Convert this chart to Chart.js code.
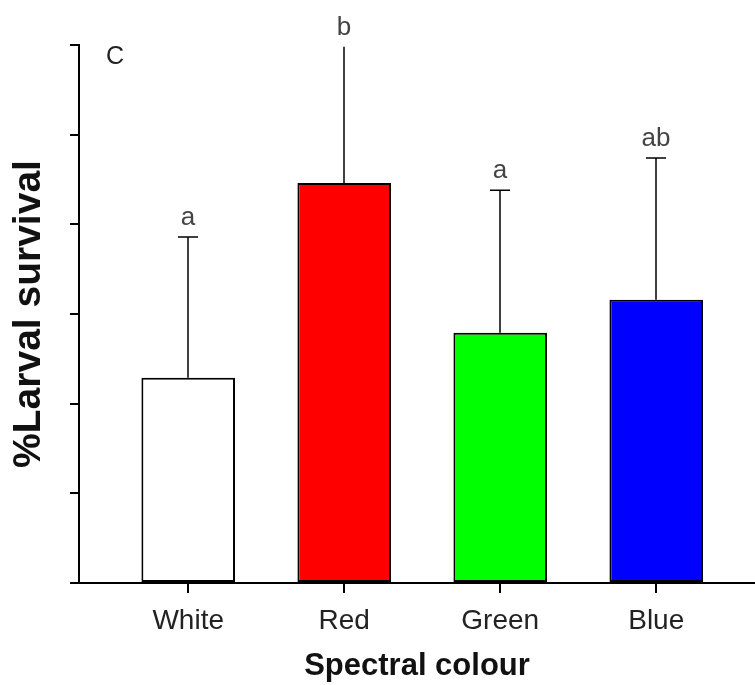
<!DOCTYPE html>
<html>
<head>
<meta charset="utf-8">
<script src="https://cdn.jsdelivr.net/npm/chart.js@4.4.1/dist/chart.umd.min.js"></script>
<style>
  html, body { margin: 0; padding: 0; background: #fff; }
  #wrap { width: 755px; height: 685px; }
</style>
</head>
<body>
<div id="wrap"><canvas id="survivalChart"></canvas></div>
<script>
// values (panel C)
const categories = ['White', 'Red', 'Green', 'Blue'];
const survival = [22.9, 44.6, 27.9, 31.6];
const errUpper = [15.7, 15.2, 15.9, 15.8];
const letters = ['a', 'b', 'a', 'ab'];
const barColours = ['#ffffff', '#ff0000', '#00ff00', '#0000ff'];
const yTicks = [0, 10, 20, 30, 40, 50, 60];

const FONT = 'Liberation Sans';

// upward error bars, significance letters and panel label
const errorBarPlugin = {
    id: 'errorBars',
    afterDatasetsDraw(chart) {
        const {ctx, scales: {y}} = chart;
        const meta = chart.getDatasetMeta(0);
        ctx.save();
        ctx.strokeStyle = '#000';
        ctx.lineWidth = 1.5;
        meta.data.forEach((bar, i) => {
            const val = survival[i] + errUpper[i];
            const top = y.getPixelForValue(val);
            const x = Math.round(bar.x);
            ctx.beginPath();
            ctx.moveTo(x, bar.y);
            ctx.lineTo(x, top);
            if (val < y.max - 0.5) {
                ctx.moveTo(x - 10, top);
                ctx.lineTo(x + 10, top);
            }
            ctx.stroke();
            ctx.fillStyle = '#444';
            ctx.font = `26px "${FONT}"`;
            ctx.textAlign = 'center';
            ctx.textBaseline = 'alphabetic';
            ctx.fillText(letters[i], x, top - 12);
        });
        ctx.font = `25px "${FONT}"`;
        ctx.textAlign = 'left';
        ctx.fillStyle = '#222';
        ctx.fillText('C', 106, 64);
        ctx.restore();
    }
};

new Chart(document.getElementById('survivalChart'), {
    type: 'bar',
    data: {
        datasets: [{
            data: categories.map((c, i) => ({x: i, y: survival[i]})),
            backgroundColor: barColours,
            borderColor: '#000',
            borderWidth: 2,
            borderSkipped: false,
            barPercentage: 0.75,
            categoryPercentage: 0.8
        }]
    },
    options: {
        responsive: true,
        maintainAspectRatio: false,
        animation: false,
        layout: {padding: {top: 45, right: 0, left: 0, bottom: 0}},
        plugins: {
            legend: {display: false},
            tooltip: {enabled: false}
        },
        scales: {
            x: {
                type: 'linear',
                min: -0.7,
                max: 3.633,
                offset: false,
                afterBuildTicks: s => { s.ticks = categories.map((c, i) => ({value: i})); },
                afterFit: s => { s.height = 102; },
                ticks: {
                    callback: v => categories[v],
                    font: {family: FONT, size: 28},
                    color: '#222',
                    padding: 11,
                    maxRotation: 0
                },
                grid: {offset: false, drawOnChartArea: false, color: '#000', lineWidth: 2, tickLength: 10},
                border: {color: '#000', width: 2},
                title: {
                    display: true,
                    text: 'Spectral colour',
                    font: {family: FONT, size: 31, weight: 'bold'},
                    color: '#111',
                    padding: {top: 0, bottom: 0}
                }
            },
            y: {
                min: 0,
                max: 60,
                afterBuildTicks: s => { s.ticks = yTicks.map(v => ({value: v})); },
                afterFit: s => { s.width = 79; },
                ticks: {display: false},
                grid: {drawOnChartArea: false, color: '#000', lineWidth: 2, tickLength: 9},
                border: {color: '#000', width: 2},
                title: {
                    display: true,
                    text: '%Larval survival',
                    font: {family: FONT, size: 39, weight: 'bold'},
                    color: '#111',
                    padding: {top: 6, bottom: 0}
                }
            }
        }
    },
    plugins: [errorBarPlugin]
});
</script>
</body>
</html>
